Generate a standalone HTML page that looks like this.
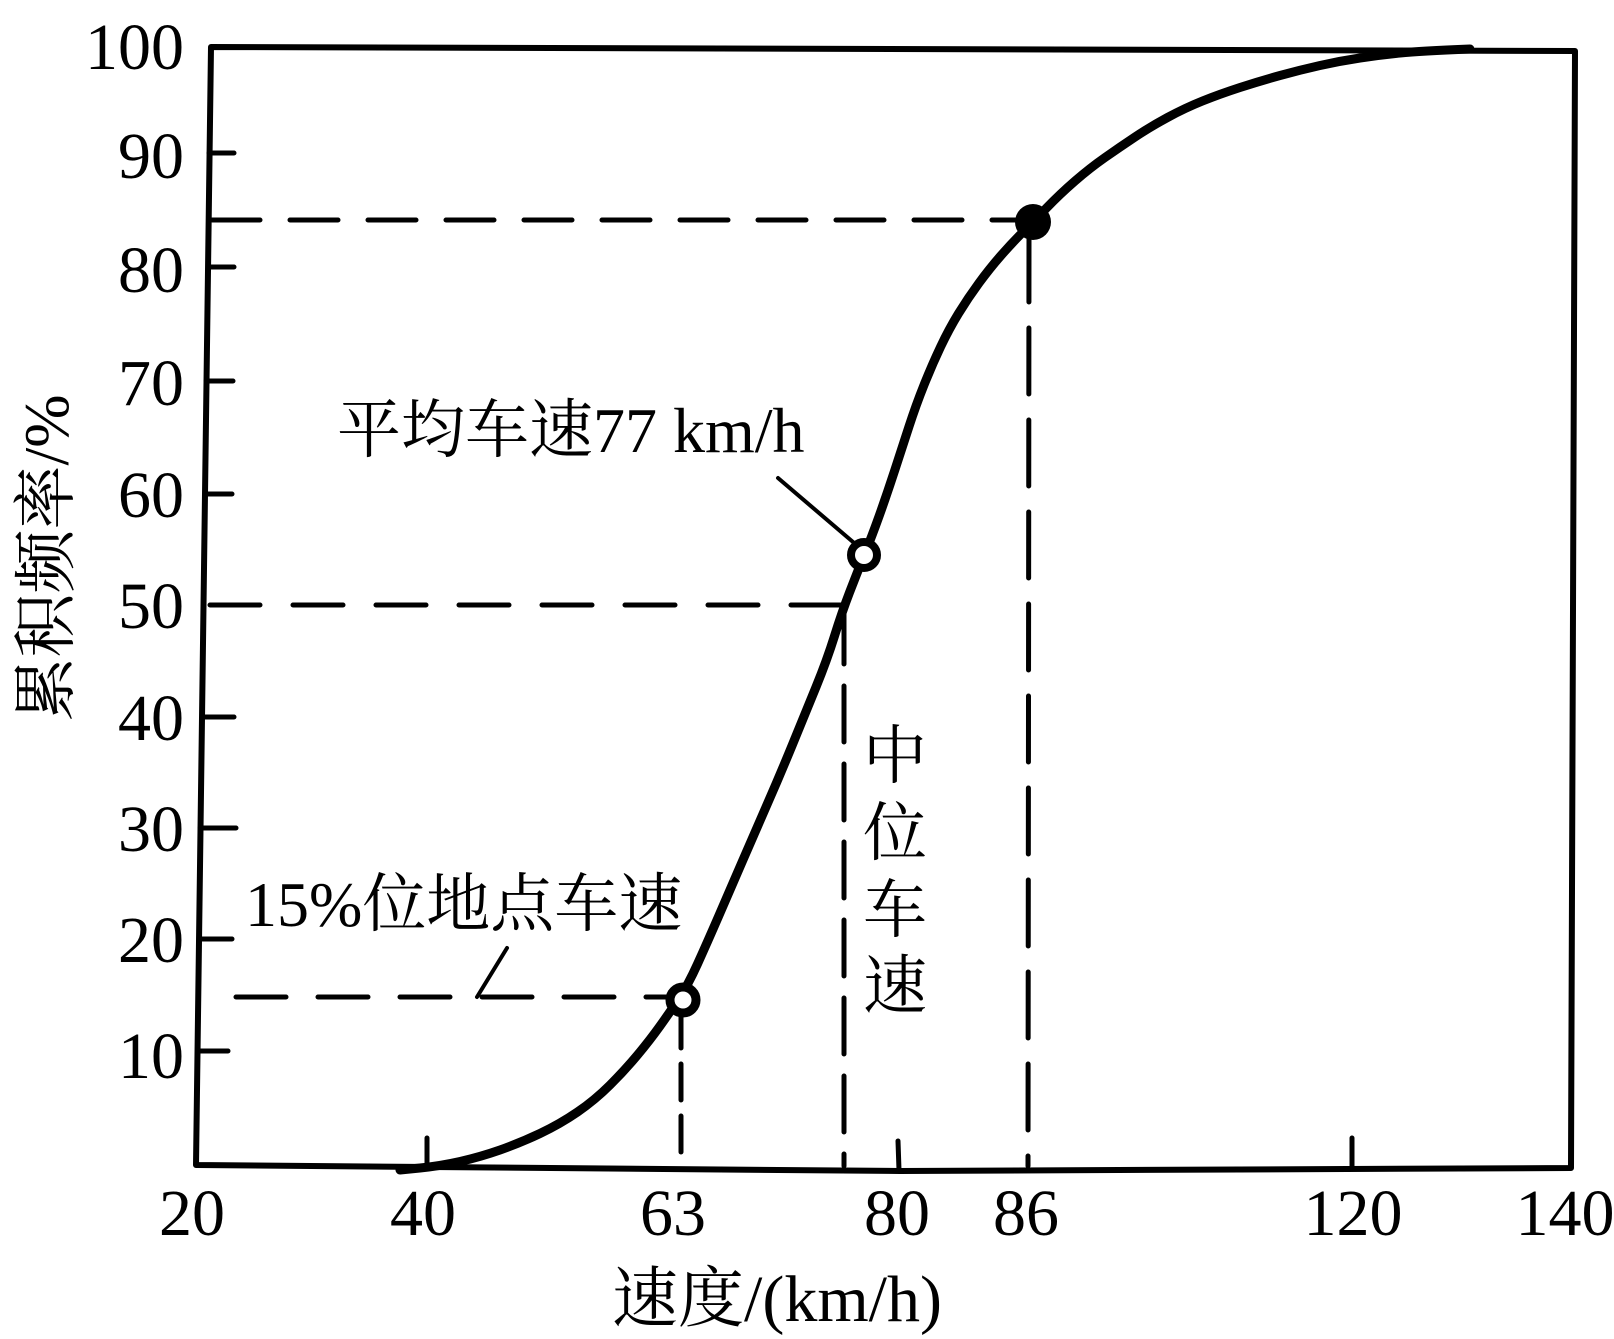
<!DOCTYPE html>
<html>
<head>
<meta charset="utf-8">
<style>
html,body{margin:0;padding:0;background:#fff;}
svg{display:block;}
.n{font-family:"Liberation Serif","Noto Serif CJK SC",serif;font-size:66px;fill:#000;}
.c{font-family:"Liberation Serif","Noto Serif CJK SC",serif;font-size:64px;fill:#000;}
</style>
</head>
<body>
<svg width="1614" height="1339" viewBox="0 0 1614 1339" xmlns="http://www.w3.org/2000/svg">
<rect width="1614" height="1339" fill="#fff"/>

<!-- dashed guide lines -->
<g stroke="#000" stroke-width="5" fill="none" stroke-linecap="round">
  <line x1="212" y1="220" x2="1015" y2="220" stroke-dasharray="48 30"/>
  <line x1="210" y1="605" x2="843" y2="605" stroke-dasharray="50 33"/>
  <line x1="236" y1="997" x2="672" y2="997" stroke-dasharray="50 32"/>
  <line x1="681" y1="1012" x2="681" y2="1166" stroke-dasharray="36 16"/>
  <line x1="844" y1="608" x2="844" y2="1166" stroke-dasharray="56 22"/>
  <line x1="1029" y1="236" x2="1028" y2="1166" stroke-dasharray="66 26"/>
</g>

<!-- pointer lines -->
<g stroke="#000" stroke-width="4" fill="none" stroke-linecap="round">
  <line x1="778" y1="478" x2="853" y2="542"/>
  <line x1="507" y1="948" x2="477" y2="997"/>
</g>

<!-- curve -->
<path fill="none" stroke="#000" stroke-width="9" stroke-linejoin="round" stroke-linecap="round"
 d="M400,1170 L420,1168 Q440,1166 460,1161.5 Q480,1157 500,1150 Q520,1143 540,1133.5 Q560,1124 577.5,1112 Q595,1100 610,1085 Q625,1070 637.5,1055 Q650,1040 660,1026 Q670,1012 679,998.5 Q688,985 697.5,964 Q707,943 718.5,916.5 Q730,890 742.5,861 Q755,832 767.5,803.5 Q780,775 792.5,744.5 Q805,714 816,687 Q827,660 834.5,636 Q842,612 849.5,592.5 Q857,573 864.5,554.5 Q872,536 879.5,515 Q887,494 894.5,471 Q902,448 909,426.5 Q916,405 924,385 Q932,365 940.5,347 Q949,329 958.5,313.5 Q968,298 979,283 Q990,268 1001,255.5 Q1012,243 1022.5,232.5 Q1033,222 1046.5,208 Q1060,194 1075,181 Q1090,168 1105,157.5 Q1120,147 1135,137 Q1150,127 1167.5,117.5 Q1185,108 1202.5,101 Q1220,94 1240,87.5 Q1260,81 1280,75.5 Q1300,70 1320,65.5 Q1340,61 1360,58 Q1380,55 1400,53 Q1420,51 1470,49"/>

<!-- markers -->
<circle cx="683" cy="1000" r="13" fill="#fff" stroke="#000" stroke-width="9"/>
<circle cx="864" cy="555" r="13" fill="#fff" stroke="#000" stroke-width="8"/>
<circle cx="1033" cy="222" r="18" fill="#000"/>

<!-- axes box -->
<path d="M211,47 L1575,51 L1571,1168 L900,1171 L196,1165 Z" fill="none" stroke="#000" stroke-width="6" stroke-linejoin="round"/>

<!-- y ticks -->
<g stroke="#000" stroke-width="5" stroke-linecap="round">
  <line x1="209" y1="153" x2="234" y2="153"/>
  <line x1="208" y1="267" x2="234" y2="267"/>
  <line x1="206" y1="381" x2="233" y2="381"/>
  <line x1="205" y1="494" x2="232" y2="494"/>
  <line x1="202" y1="717" x2="234" y2="717"/>
  <line x1="200" y1="828" x2="236" y2="828"/>
  <line x1="199" y1="939" x2="232" y2="939"/>
  <line x1="198" y1="1051" x2="228" y2="1051"/>
</g>
<!-- x ticks -->
<g stroke="#000" stroke-width="5" stroke-linecap="round">
  <line x1="427" y1="1166" x2="427" y2="1138"/>
  <line x1="899" y1="1170" x2="898" y2="1141"/>
  <line x1="1352" y1="1168" x2="1352" y2="1138"/>
</g>

<!-- y tick labels -->
<g class="n" text-anchor="end">
  <text x="184" y="69">100</text>
  <text x="184" y="178">90</text>
  <text x="184" y="292">80</text>
  <text x="184" y="405">70</text>
  <text x="184" y="517">60</text>
  <text x="184" y="628">50</text>
  <text x="184" y="740">40</text>
  <text x="184" y="851">30</text>
  <text x="184" y="962">20</text>
  <text x="184" y="1078">10</text>
</g>

<!-- x tick labels -->
<g class="n" text-anchor="middle">
  <text x="192" y="1235">20</text>
  <text x="423" y="1235">40</text>
  <text x="673" y="1235">63</text>
  <text x="897" y="1235">80</text>
  <text x="1026" y="1235">86</text>
  <text x="1353" y="1235">120</text>
  <text x="1565" y="1235">140</text>
</g>

<!-- annotations -->
<text class="c" x="337" y="452">平均车速77 km/h</text>
<text class="c" x="245" y="926">15%位地点车速</text>
<g class="c" text-anchor="middle">
  <text x="895" y="778">中</text>
  <text x="895" y="855">位</text>
  <text x="895" y="932">车</text>
  <text x="895" y="1008">速</text>
</g>

<!-- axis titles -->
<text class="c" text-anchor="middle" transform="translate(68,558) rotate(-90)">累积频率/%</text>
<text class="c" x="612" y="1321" style="font-size:66px">速度/(km/h)</text>
</svg>
</body>
</html>
